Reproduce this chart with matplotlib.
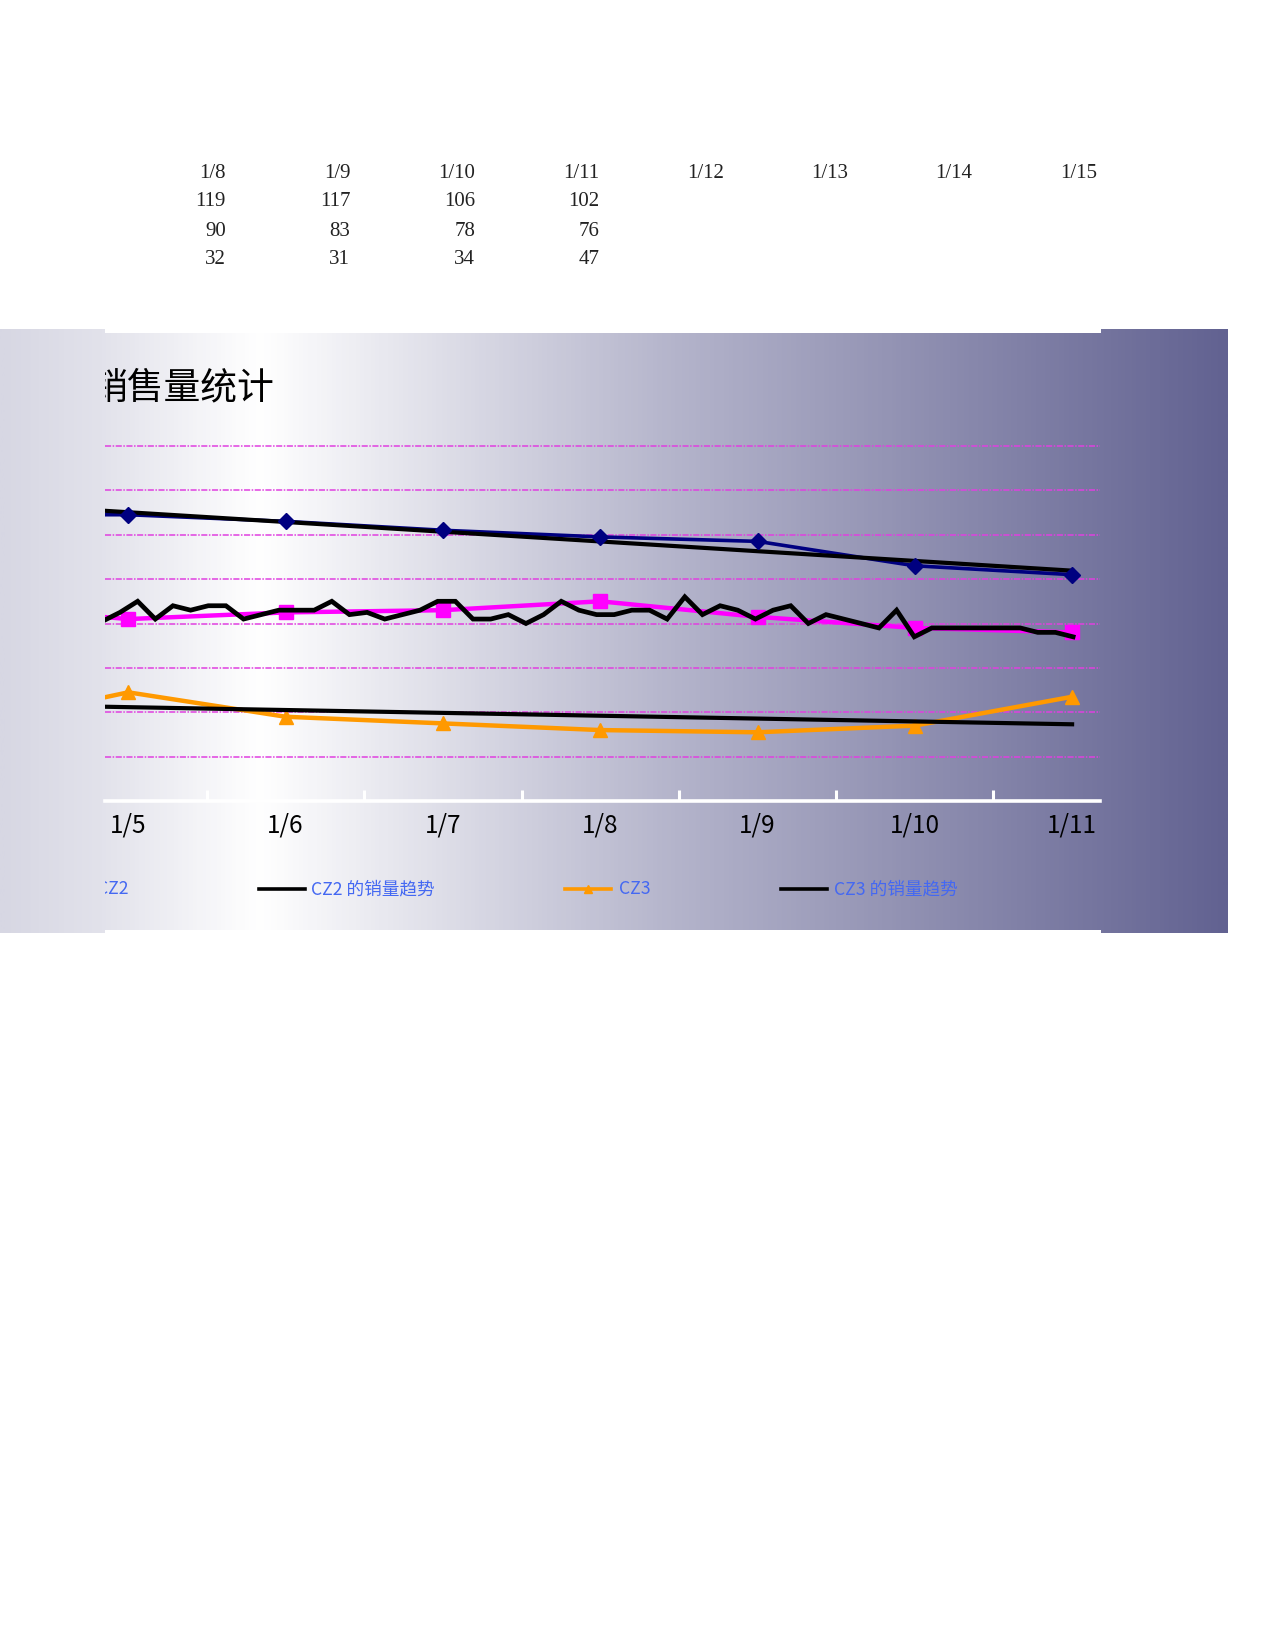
import numpy as np
import matplotlib
matplotlib.use('Agg')
import matplotlib.pyplot as plt
from matplotlib.colors import LinearSegmentedColormap
from matplotlib.patches import Rectangle
from matplotlib.lines import Line2D

plt.rcParams['font.family'] = ['Noto Sans CJK SC', 'DejaVu Sans']

# ---------------- data ----------------
table_dates = ['1/8', '1/9', '1/10', '1/11', '1/12', '1/13', '1/14', '1/15']
table_row1 = [119, 117, 106, 102]
table_row2 = [90, 83, 78, 76]
table_row3 = [32, 31, 34, 47]

categories = ['1/4', '1/5', '1/6', '1/7', '1/8', '1/9', '1/10', '1/11']
cz1 = [129, 129, 126, 122, 119, 117, 106, 102]
cz2 = [88, 82, 85, 86, 90, 83, 78, 76]
cz3 = [34, 49, 38, 35, 32, 31, 34, 47]
# detailed CZ2 trend series (secondary category axis)
cz2_trend = [81, 85, 90, 82, 88, 86, 88, 88, 82, 84, 86, 86, 86, 90, 84, 85,
             82, 84, 86, 90, 90, 82, 82, 84, 80, 84, 90, 86, 84, 84, 86, 86,
             82, 92, 84, 88, 86, 82, 86, 88, 80, 84, 82, 80, 78, 86, 74, 78,
             78, 78, 78, 78, 78, 76, 76, 74]
cz1_trend = [134.5, 103.8]   # trend values at first / last category
cz3_trend = [43.6, 34.6]
title_text = '销售量统计'
legend_labels = ['CZ2', 'CZ2 的销量趋势', 'CZ3', 'CZ3 的销量趋势']

# ---------------- figure ----------------
W, H = 1275, 1650
fig = plt.figure(figsize=(W / 100, H / 100), dpi=100)


def fx(px):
    return px / W


def fy(py):
    return 1 - py / H


# table text
col_right = [226, 350.3, 475, 599.5, 723.8, 848, 972.5, 1097]
row_y = [173.5, 202, 231, 259.5]
serif = ['Liberation Serif', 'DejaVu Serif']
for i, d in enumerate(table_dates):
    fig.text(fx(col_right[i]), fy(row_y[0]), d, ha='right', va='center',
             fontsize=15, family=serif, color='#222222')
for r, row in enumerate([table_row1, table_row2, table_row3]):
    for i, v in enumerate(row):
        fig.text(fx(col_right[i]), fy(row_y[r + 1]), str(v), ha='right',
                 va='center', fontsize=15, family=serif, color='#222222')

# gradient background
g_left, g_right, g_top, g_bot = 0, 1228, 329, 933.3
gax = fig.add_axes([fx(g_left), fy(g_bot), fx(g_right - g_left), (g_bot - g_top) / H])
gax.set_zorder(0)
cmap = LinearSegmentedColormap.from_list('bg', [
    (0.0, '#d7d7e3'), (0.08, '#e2e2eb'), (0.21, '#ffffff'),
    (0.55, '#b4b4cb'), (1.0, '#626291')])
gax.imshow(np.linspace(0, 1, 600)[None, :], aspect='auto', cmap=cmap,
           extent=[0, 1, 0, 1])
gax.axis('off')

# white edges of the middle region
for (y0, y1) in [(329, 332.7), (930, 933.3)]:
    fig.add_artist(Rectangle((fx(105), fy(y1)), fx(1101 - 105), (y1 - y0) / H,
                             transform=fig.transFigure, facecolor='white',
                             edgecolor='none', zorder=0.5))

# main axes (clipped region)
a_left, a_right, a_top, a_bot = 105, 1100, 333, 930
ax = fig.add_axes([fx(a_left), fy(a_bot), fx(a_right - a_left), (a_bot - a_top) / H])
ax.set_zorder(1)
ax.patch.set_alpha(0)

x0_px, dx_px = 128.3, 157.3          # position of '1/5' and category width
y0_px, dy_px = 801.1, 2.22           # pixel of value 0, px per unit


def px2x(px):
    return 1 + (px - x0_px) / dx_px


def py2y(py):
    return (y0_px - py) / dy_px


x = np.arange(len(categories))

# gridlines
for gv in range(20, 161, 20):
    ax.axhline(gv, color='#e040e0', lw=1.1, dashes=(4, 1, 1, 1), zorder=1)

# series
ax.plot(x, cz1, color='#000080', lw=2.6, zorder=3)
ax.plot([x[0], x[-1]], cz1_trend, color='black', lw=3.0, zorder=4)
ax.plot(x, cz1, ls='none', marker='D', ms=8, color='#000080', zorder=5)

ax.plot(x, cz2, color='#ff00ff', lw=3.2, marker='s', ms=9.5, zorder=3)

ax.plot(x, cz3, color='#ff9900', lw=3.2, marker='^', ms=10, zorder=3)
ax.plot([x[0], x[-1]], cz3_trend, color='black', lw=3.0, zorder=4)

# x axis
for s in ['left', 'right', 'top']:
    ax.spines[s].set_visible(False)
ax.spines['bottom'].set_position(('data', 0))
ax.spines['bottom'].set_color('white')
ax.spines['bottom'].set_linewidth(2.6)
ax.spines['bottom'].set_zorder(7)
ax.set_yticks([])
ax.set_xticks(x, categories)
ax.set_xticks(np.arange(len(categories) + 1) - 0.5, minor=True)
ax.tick_params(axis='x', which='major', length=0, pad=8, labelsize=17.5,
               labelcolor='black')
ax.tick_params(axis='x', which='minor', length=8, width=2.2, direction='in',
               color='white')
ax.set_xlim(px2x(a_left), px2x(a_right))
ax.set_ylim(py2y(a_bot), py2y(a_top))

# secondary category axis for detailed trend
ax2 = ax.twiny()
ax2.set_zorder(2)
ax2.patch.set_alpha(0)
j0_px, dj_px = 102.35, 17.65
ax2.plot(np.arange(len(cz2_trend)), cz2_trend, color='black', lw=3.4,
         solid_joinstyle='miter', zorder=6)
ax2.set_xlim((a_left - j0_px) / dj_px, (a_right - j0_px) / dj_px)
ax2.set_ylim(py2y(a_bot), py2y(a_top))
ax2.axis('off')

# title (clipped)
ax.text(px2x(91), py2y(388), title_text, fontsize=26.5, ha='left', va='center',
        color='black', clip_on=True)

# legend (manual, clipped)
leg_y = py2y(889)
handles = [dict(h0=45, h1=91, t=97, color='#ff00ff', marker='s'),
           dict(h0=259, h1=305, t=311, color='black', marker=None),
           dict(h0=565, h1=611, t=619, color='#ff9900', marker='^'),
           dict(h0=781, h1=827, t=834, color='black', marker=None)]
for h, lab in zip(handles, legend_labels):
    ax.add_line(Line2D([px2x(h['h0']), px2x(h['h1'])], [leg_y, leg_y],
                       color=h['color'], lw=2.6, clip_on=True))
    if h['marker']:
        ax.plot([px2x((h['h0'] + h['h1']) / 2)], [leg_y], marker=h['marker'],
                ms=6, color=h['color'], clip_on=True)
    ax.text(px2x(h['t']), leg_y, lab, fontsize=12.7, color='#4468f2',
            ha='left', va='center', clip_on=True)

ax.set_xlim(px2x(a_left), px2x(a_right))
ax.set_ylim(py2y(a_bot), py2y(a_top))

fig.savefig('out.png', dpi=100)
